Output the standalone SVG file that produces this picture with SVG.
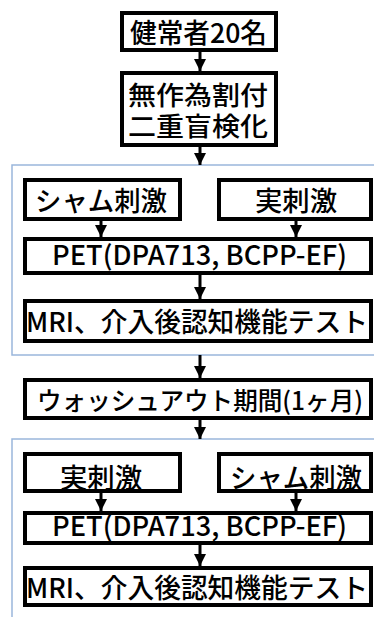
<svg xmlns="http://www.w3.org/2000/svg" width="374" height="617" viewBox="0 0 374 617">
<style>
.box{fill:#fff;stroke:#000;stroke-width:4}
.t{font-family:"Noto Sans CJK JP","Noto Sans",sans-serif;font-size:27px;font-weight:500;fill:#000;text-anchor:middle}
.frame{fill:none;stroke:#9ab7dc;stroke-width:1.5}
.conn line{stroke:#000;stroke-width:3}
</style>
<defs>
<marker id="ah" viewBox="0 0 12 12" refX="12" refY="6" markerWidth="12" markerHeight="12" markerUnits="userSpaceOnUse" orient="auto">
<path d="M0,0 L12,6 L0,12 z" fill="#000"/>
</marker>
</defs>
<rect width="374" height="617" fill="#fff"/>
<g id="frames">
<path class="frame" d="M374,165 H12 V355 H374"/>
<path class="frame" d="M374,439 H12 V617"/>
</g>
<g id="n1"><rect class="box" x="122" y="13" width="154" height="37"/><text class="t" x="198.5" y="43" textLength="137" lengthAdjust="spacingAndGlyphs">健常者20名</text></g>
<g id="n2"><rect class="box" x="122" y="73" width="154" height="72"/><text class="t" style="font-size:26px"><tspan x="198" y="105" textLength="140" lengthAdjust="spacingAndGlyphs">無作為割付</tspan><tspan x="198" y="136" textLength="140" lengthAdjust="spacingAndGlyphs">二重盲検化</tspan></text></g>
<g id="n3"><rect class="box" x="25" y="180" width="155" height="39"/><text class="t" x="101" y="211" textLength="132" lengthAdjust="spacingAndGlyphs">シャム刺激</text></g>
<g id="n4"><rect class="box" x="219" y="180" width="152" height="39"/><text class="t" x="296" y="211" textLength="82" lengthAdjust="spacingAndGlyphs">実刺激</text></g>
<g id="n5"><rect class="box" x="25" y="239" width="346" height="34"/><text class="t" x="199.5" y="265" textLength="295" lengthAdjust="spacingAndGlyphs">PET(DPA713, BCPP-EF)</text></g>
<g id="n6"><rect class="box" x="25" y="301" width="346" height="40"/><text class="t" x="197" y="332" textLength="342" lengthAdjust="spacingAndGlyphs">MRI、介入後認知機能テスト</text></g>
<g id="n7"><rect class="box" x="25" y="380" width="346" height="38"/><text class="t" x="200" y="410" style="font-size:25px" textLength="326" lengthAdjust="spacingAndGlyphs">ウォッシュアウト期間(1ヶ月)</text></g>
<g id="n8"><rect class="box" x="25" y="454" width="155" height="37"/><text class="t" x="101" y="488" textLength="82" lengthAdjust="spacingAndGlyphs">実刺激</text></g>
<g id="n9"><rect class="box" x="219" y="454" width="152" height="37"/><text class="t" x="296" y="488" textLength="132" lengthAdjust="spacingAndGlyphs">シャム刺激</text></g>
<g id="n10"><rect class="box" x="25" y="513" width="346" height="30"/><text class="t" x="199.5" y="536" textLength="295" lengthAdjust="spacingAndGlyphs">PET(DPA713, BCPP-EF)</text></g>
<g id="n11"><rect class="box" x="25" y="568" width="346" height="37"/><text class="t" x="197" y="598" textLength="342" lengthAdjust="spacingAndGlyphs">MRI、介入後認知機能テスト</text></g>
<g id="connectors" class="conn">
<line x1="200" y1="52" x2="200" y2="71" marker-end="url(#ah)"/>
<line x1="200" y1="147" x2="200" y2="165" marker-end="url(#ah)"/>
<line x1="101" y1="221" x2="101" y2="237" marker-end="url(#ah)"/>
<line x1="296" y1="221" x2="296" y2="237" marker-end="url(#ah)"/>
<line x1="200" y1="275" x2="200" y2="299" marker-end="url(#ah)"/>
<line x1="200" y1="355" x2="200" y2="378" marker-end="url(#ah)"/>
<line x1="200" y1="420" x2="200" y2="439" marker-end="url(#ah)"/>
<line x1="101" y1="493" x2="101" y2="511" marker-end="url(#ah)"/>
<line x1="296" y1="493" x2="296" y2="511" marker-end="url(#ah)"/>
<line x1="200" y1="545" x2="200" y2="566" marker-end="url(#ah)"/>
</g>
</svg>
